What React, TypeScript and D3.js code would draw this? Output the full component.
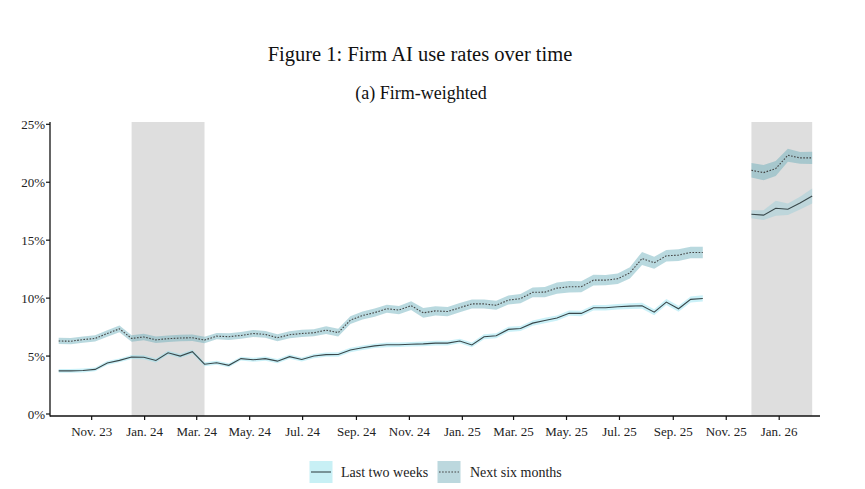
import React from 'react';
import * as d3 from 'd3';

// survey waves are biweekly from this date; wave index k -> start + 14k days
const firstWave = '2023-09-24';
const waveIdxA = d3.range(0, 54);
const waveIdxB = d3.range(57, 63);

// Last two weeks (%)
const lastTwoA = [
  3.72, 3.72, 3.76, 3.85, 4.4, 4.63, 4.92, 4.9, 4.62, 5.28,
  5.0, 5.38, 4.3, 4.42, 4.2, 4.78, 4.68, 4.78, 4.56, 4.95,
  4.7, 5.0, 5.12, 5.14, 5.52, 5.72, 5.88, 5.97, 5.98, 6.02,
  6.05, 6.12, 6.12, 6.3, 5.96, 6.67, 6.75, 7.3, 7.38, 7.84,
  8.07, 8.28, 8.7, 8.68, 9.17, 9.17, 9.25, 9.31, 9.34, 8.79,
  9.66, 9.08, 9.89, 9.97,
];
const lastTwoB = [17.24, 17.16, 17.76, 17.67, 18.2, 18.82];
const lastTwoCiA = [
  0.17, 0.17, 0.17, 0.17, 0.17, 0.17, 0.17, 0.17, 0.17, 0.17,
  0.17, 0.17, 0.17, 0.17, 0.17, 0.17, 0.17, 0.18, 0.18, 0.18,
  0.18, 0.18, 0.18, 0.19, 0.19, 0.19, 0.19, 0.2, 0.2, 0.2,
  0.2, 0.2, 0.2, 0.2, 0.21, 0.21, 0.21, 0.22, 0.22, 0.22,
  0.23, 0.23, 0.23, 0.24, 0.24, 0.24, 0.24, 0.25, 0.25, 0.26,
  0.26, 0.26, 0.26, 0.27,
];
const lastTwoCiB = [0.35, 0.42, 0.65, 0.5, 0.55, 0.65];

// Next six months (%)
const nextSixA = [
  6.3, 6.28, 6.42, 6.52, 6.95, 7.35, 6.52, 6.65, 6.4, 6.5,
  6.56, 6.58, 6.38, 6.72, 6.67, 6.78, 6.95, 6.87, 6.58, 6.84,
  6.95, 7.01, 7.24, 7.02, 8.1, 8.5, 8.75, 9.08, 8.97, 9.35,
  8.73, 8.9, 8.84, 9.17, 9.5, 9.5, 9.38, 9.83, 9.95, 10.5,
  10.52, 10.86, 10.98, 10.98, 11.55, 11.55, 11.67, 12.18, 13.42, 13.05,
  13.65, 13.71, 13.94, 13.94,
];
const nextSixB = [21.03, 20.83, 21.18, 22.33, 22.1, 22.1];
const nextSixCiA = [
  0.27, 0.27, 0.27, 0.27, 0.28, 0.29, 0.28, 0.28, 0.28, 0.28,
  0.28, 0.28, 0.28, 0.28, 0.29, 0.29, 0.3, 0.3, 0.3, 0.3,
  0.31, 0.31, 0.33, 0.33, 0.34, 0.34, 0.35, 0.35, 0.36, 0.38,
  0.42, 0.4, 0.4, 0.4, 0.39, 0.39, 0.39, 0.39, 0.4, 0.42,
  0.44, 0.48, 0.5, 0.48, 0.46, 0.45, 0.46, 0.48, 0.57, 0.52,
  0.5, 0.5, 0.49, 0.49,
];
const nextSixCiB = [0.62, 0.65, 0.65, 0.57, 0.5, 0.53];

const shadedPeriods = [
  ['2023-12-17', '2024-03-10'],
  ['2025-11-30', '2026-02-08'],
];

const xTicks = [
  '2023-11-01', '2024-01-01', '2024-03-01', '2024-05-01', '2024-07-01', '2024-09-01', '2024-11-01',
  '2025-01-01', '2025-03-01', '2025-05-01', '2025-07-01', '2025-09-01', '2025-11-01', '2026-01-01',
];
const yTicks = [0, 5, 10, 15, 20, 25];

const seriesNames = ['Last two weeks', 'Next six months'];

const parse = d3.timeParse('%Y-%m-%d');
const fmtTick = (d: Date) => `${d3.timeFormat('%b')(d)}. ${d3.timeFormat('%y')(d)}`;

const font = '"Liberation Serif", "Times New Roman", serif';

const W = 865;
const H = 489;
const left = 50;
const right = 820;
const top = 122;
const bottom = 416;

const solidBand = 'rgba(140,225,240,0.45)';
const solidBandLate = 'rgba(150,205,215,0.45)';
const dottedBand = 'rgba(100,170,185,0.45)';
const solidStroke = '#38474a';
const dottedStroke = '#444';

interface Pt {
  date: Date;
  v: number;
  ci: number;
}

const App: React.FC = () => {
  const start = parse(firstWave) as Date;
  const toDates = (idx: number[]) => idx.map(k => d3.timeDay.offset(start, 14 * k));

  const build = (idx: number[], vals: number[], ci: number[]): Pt[] =>
    toDates(idx).map((date, i) => ({ date, v: vals[i], ci: ci[i] }));

  const solidSegs = [build(waveIdxA, lastTwoA, lastTwoCiA), build(waveIdxB, lastTwoB, lastTwoCiB)];
  const dottedSegs = [build(waveIdxA, nextSixA, nextSixCiA), build(waveIdxB, nextSixB, nextSixCiB)];

  const x = d3.scaleTime()
    .domain([parse('2023-09-14') as Date, parse('2026-02-17') as Date])
    .range([left, right]);
  const y = d3.scaleLinear().domain([0, 25]).range([414, 124.3]);

  const area = d3.area<Pt>()
    .x(d => x(d.date))
    .y0(d => y(d.v - d.ci))
    .y1(d => y(d.v + d.ci));
  const line = d3.line<Pt>()
    .x(d => x(d.date))
    .y(d => y(d.v));

  return (
    <svg width={W} height={H} style={{ position: 'absolute', left: 0, top: 0, background: '#fff' }}>
      <text x={420} y={61} textAnchor="middle" fontFamily={font} fontSize={20.5} fill="#111">
        Figure 1: Firm AI use rates over time
      </text>
      <text x={421} y={99} textAnchor="middle" fontFamily={font} fontSize={18} fill="#111">
        (a) Firm-weighted
      </text>

      {shadedPeriods.map(([a, b], i) => (
        <rect key={i} x={x(parse(a) as Date)} y={top}
          width={x(parse(b) as Date) - x(parse(a) as Date)} height={bottom - top} fill="#dedede" />
      ))}

      {solidSegs.map((s, i) => (
        <path key={'sa' + i} d={area(s) || ''} fill={i === 0 ? solidBand : solidBandLate} />
      ))}
      {dottedSegs.map((s, i) => (
        <path key={'da' + i} d={area(s) || ''} fill={dottedBand} />
      ))}
      {solidSegs.map((s, i) => (
        <path key={'sl' + i} d={line(s) || ''} fill="none" stroke={solidStroke} strokeWidth={1.1} />
      ))}
      {dottedSegs.map((s, i) => (
        <path key={'dl' + i} d={line(s) || ''} fill="none" stroke={dottedStroke} strokeWidth={1.1}
          strokeDasharray="1.6 1.5" />
      ))}

      {/* axes */}
      <line x1={left} x2={left} y1={top} y2={bottom + 0.5} stroke="#111" strokeWidth={1.3} />
      <line x1={left} x2={right} y1={bottom} y2={bottom} stroke="#111" strokeWidth={1.3} />
      {yTicks.map(t => (
        <g key={t}>
          <line x1={left - 4} x2={left} y1={y(t)} y2={y(t)} stroke="#111" strokeWidth={1.2} />
          <text x={left - 5} y={y(t)} dy="0.35em" textAnchor="end" fontFamily={font} fontSize={13} fill="#222">
            {t}%
          </text>
        </g>
      ))}
      {xTicks.map(s => {
        const d = parse(s) as Date;
        return (
          <g key={s}>
            <line x1={x(d)} x2={x(d)} y1={bottom} y2={bottom + 4} stroke="#111" strokeWidth={1.2} />
            <text x={x(d)} y={436} textAnchor="middle" fontFamily={font} fontSize={13} fill="#222">
              {fmtTick(d)}
            </text>
          </g>
        );
      })}

      {/* legend */}
      <g>
        <rect x={309.5} y={461} width={23} height={22} fill="#c8f0f5" />
        <line x1={311} x2={331} y1={472} y2={472} stroke={solidStroke} strokeWidth={1.1} />
        <text x={341} y={477} fontFamily={font} fontSize={14} fill="#222">{seriesNames[0]}</text>
        <rect x={437.5} y={461} width={23} height={22} fill="#bcd8de" />
        <line x1={439} x2={459} y1={472} y2={472} stroke={dottedStroke} strokeWidth={1.1} strokeDasharray="1.6 1.5" />
        <text x={470} y={477} fontFamily={font} fontSize={14} fill="#222">{seriesNames[1]}</text>
      </g>
    </svg>
  );
};

export default App;
